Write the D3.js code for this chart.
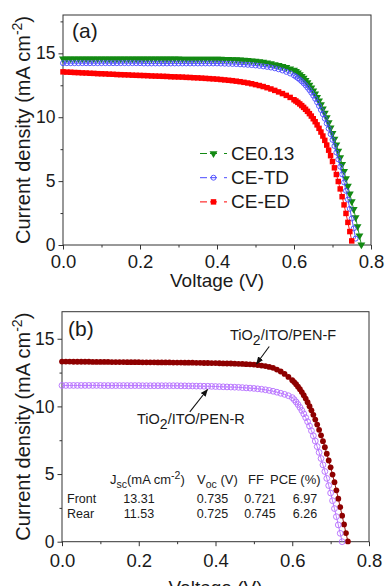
<!DOCTYPE html>
<html><head><meta charset="utf-8">
<script src="https://cdn.jsdelivr.net/npm/d3@7"></script>
<style>
body{margin:0;background:#fff}
svg{display:block}
text{font-family:"Liberation Sans",Arial,Helvetica,sans-serif;fill:#1a1a1a}
</style>
</head><body>
<svg id="c" width="387" height="586"></svg>
<script>
// ---------------- data ----------------
const voltage = [0.00,0.01,0.02,0.03,0.04,0.05,0.06,0.07,0.08,0.09,0.10,0.11,0.12,0.13,0.14,0.15,0.16,0.17,0.18,0.19,0.20,0.21,0.22,0.23,0.24,0.25,0.26,0.27,0.28,0.29,0.30,0.31,0.32,0.33,0.34,0.35,0.36,0.37,0.38,0.39,0.40,0.41,0.42,0.43,0.44,0.45,0.46,0.47,0.48,0.49,0.50,0.51,0.52,0.53,0.54,0.55,0.56,0.57,0.58,0.59,0.60,
0.605,0.61,0.615,0.62,0.625,0.63,0.635,0.64,0.645,0.65,0.655,0.66,0.665,0.67,0.675,0.68,0.685,0.69,0.695,0.70,0.705,0.71,0.715,0.72,0.725,0.73,0.735,0.74,0.745,0.75,0.755,0.76,0.765,0.77,0.775];

// panel (a)
const jCE013 = [14.58,14.58,14.58,14.58,14.58,14.58,14.58,14.58,14.58,14.58,14.58,
14.57,14.57,14.57,14.57,14.57,14.57,14.57,14.57,14.57,14.57,14.57,14.57,14.57,14.57,14.57,14.57,14.57,14.57,14.57,14.57,
14.56,14.56,14.56,14.56,14.56,14.56,14.56,14.56,14.56,14.56,
14.55,14.54,14.53,14.52,14.51,14.49,14.47,14.45,14.42,14.39,
14.35,14.31,14.26,14.20,14.13,14.06,13.98,13.90,13.80,13.70,
13.60,13.48,13.35,13.21,13.06,12.89,12.71,12.51,12.30,12.07,11.83,11.57,11.29,10.99,10.67,10.33,9.97,9.58,9.17,8.74,8.30,7.85,7.36,6.85,6.32,5.77,5.20,4.61,4.00,3.40,2.80,2.15,1.45,0.72,0.02];
const jCETD = [14.23,14.23,14.23,14.23,14.23,14.23,14.23,14.23,14.23,14.23,14.23,14.23,14.23,14.23,14.23,14.23,14.23,14.23,14.23,14.23,14.23,
14.21,14.21,14.21,14.21,14.21,14.21,14.21,14.21,14.21,14.21,14.21,14.21,14.21,14.21,14.21,14.21,14.21,14.21,14.21,14.21,
14.20,14.19,14.18,14.17,14.16,14.14,14.12,14.10,14.08,14.05,
14.02,13.98,13.94,13.89,13.83,13.75,13.66,13.55,13.42,13.27,
13.17,13.06,12.94,12.81,12.66,12.50,12.32,12.13,11.92,11.69,11.44,11.17,10.88,10.57,10.24,9.89,9.51,9.11,8.68,8.23,7.75,7.24,6.70,6.13,5.53,4.90,4.24,3.55,2.83,2.08,1.30,0.50];
const jCEED = [13.55,13.53,13.52,13.50,13.49,13.47,13.46,13.44,13.43,13.41,13.40,
13.39,13.37,13.36,13.34,13.33,13.32,13.31,13.29,13.28,13.27,
13.26,13.25,13.23,13.22,13.21,13.20,13.19,13.17,13.16,13.15,
13.14,13.12,13.11,13.09,13.08,13.06,13.04,13.02,13.00,12.98,
12.95,12.92,12.89,12.86,12.82,12.78,12.73,12.68,12.62,12.55,
12.48,12.40,12.31,12.21,12.10,11.98,11.85,11.71,11.55,11.37,
11.27,11.16,11.04,10.91,10.77,10.62,10.46,10.28,10.09,9.88,9.65,9.40,9.13,8.84,8.53,8.19,7.82,7.42,6.99,6.53,6.04,5.52,4.97,4.39,3.78,3.14,2.47,1.77,1.05,0.32];

// panel (b)
const jFront = [13.31,13.31,13.31,13.30,13.30,13.30,13.30,13.30,13.29,13.29,13.29,
13.29,13.29,13.28,13.28,13.28,13.28,13.27,13.27,13.27,13.27,
13.26,13.26,13.26,13.26,13.25,13.25,13.25,13.25,13.24,13.24,
13.24,13.23,13.23,13.23,13.22,13.22,13.21,13.21,13.20,13.20,
13.19,13.18,13.17,13.17,13.16,13.15,13.14,13.12,13.11,13.09,
13.06,13.02,12.98,12.92,12.85,12.72,12.58,12.40,12.18,11.94,
11.80,11.64,11.46,11.27,11.06,10.83,10.58,10.31,10.02,9.71,9.38,9.03,8.66,8.27,7.86,7.43,6.98,6.50,6.00,5.50,4.96,4.40,3.80,3.18,2.55,1.92,1.28,0.64,0.02];
const jRear = [11.55,11.55,11.55,11.55,11.55,11.55,11.55,11.55,11.55,11.55,11.55,
11.54,11.54,11.54,11.54,11.54,11.54,11.54,11.54,11.54,11.54,
11.53,11.53,11.53,11.53,11.53,11.53,11.53,11.53,11.53,11.53,
11.52,11.52,11.51,11.51,11.50,11.50,11.49,11.49,11.48,11.47,
11.46,11.45,11.44,11.43,11.42,11.41,11.39,11.37,11.35,11.33,
11.30,11.27,11.23,11.18,11.12,11.05,10.97,10.89,10.79,10.65,
10.50,10.33,10.14,9.93,9.70,9.45,9.17,8.87,8.55,8.20,7.83,7.44,7.03,6.60,6.15,5.68,5.19,4.68,4.15,3.60,3.03,2.45,1.85,1.24,0.62,0.00];

const seriesNamesA = ["CE0.13","CE-TD","CE-ED"];
const xTicks = [0.0,0.2,0.4,0.6,0.8];
const xMinorTicks = [0.1,0.3,0.5,0.7];
const yTicks = [0,5,10,15];
const yMinorTicksA = [2.5,7.5,12.5,17.5];
const yMinorTicksB = [2.5,7.5,12.5];
const annotationLabels = ["TiO2/ITO/PEN-F","TiO2/ITO/PEN-R"];
const tableRows = ["Front","Rear"];
const tableJsc = ["13.31","11.53"];
const tableVoc = ["0.735","0.725"];
const tableFF = ["0.721","0.745"];
const tablePCE = ["6.97","6.26"];

// ---------------- drawing ----------------
const svg = d3.select("#c");
const defs = svg.append("defs");
defs.append("marker").attr("id","ah").attr("viewBox","0 0 10 10").attr("refX",9).attr("refY",5)
  .attr("markerWidth",7).attr("markerHeight",7).attr("orient","auto")
  .append("path").attr("d","M0,1 L10,5 L0,9 z").attr("fill","#111");

function panel(p){
  const g = svg.append("g");
  const x = d3.scaleLinear().domain([0,0.8]).range([p.left,p.right]);
  const y = d3.scaleLinear().domain([0,p.ymax]).range([p.bottom,p.top]);

  const xa = g.append("g").attr("transform",`translate(0,${p.bottom})`)
    .call(d3.axisBottom(x).tickValues(xTicks).tickFormat(d3.format(".1f")).tickSize(4.5));
  xa.select(".domain").remove();
  xa.selectAll("line").attr("stroke","#333");
  xa.selectAll("text").attr("dy",null).attr("y",p.xLabOff).style("font-size","18.5px").attr("fill","#1a1a1a");
  const xm = g.append("g").attr("transform",`translate(0,${p.bottom})`)
    .call(d3.axisBottom(x).tickValues(xMinorTicks).tickFormat("").tickSize(2.5));
  xm.select(".domain").remove(); xm.selectAll("line").attr("stroke","#333");

  const ya = g.append("g").attr("transform",`translate(${p.left},0)`)
    .call(d3.axisLeft(y).tickValues(yTicks).tickFormat(d3.format("d")).tickSize(4.5).tickPadding(3));
  ya.select(".domain").remove();
  ya.selectAll("line").attr("stroke","#333");
  ya.selectAll("text").style("font-size","17.5px").attr("fill","#1a1a1a");
  const ym = g.append("g").attr("transform",`translate(${p.left},0)`)
    .call(d3.axisLeft(y).tickValues(p.yMinor).tickFormat("").tickSize(2.5));
  ym.select(".domain").remove(); ym.selectAll("line").attr("stroke","#333");

  g.append("rect").attr("x",p.left).attr("y",p.top).attr("width",p.right-p.left).attr("height",p.bottom-p.top)
    .attr("fill","none").attr("stroke","#333").attr("stroke-width",1);

  const yl = g.append("text").attr("transform",`translate(29.5,${(p.top+p.bottom)/2}) rotate(-90)`)
    .attr("text-anchor","middle").style("font-size","20px");
  yl.append("tspan").text("Current density (mA cm");
  yl.append("tspan").attr("dy",-8).style("font-size","14px").text("-2");
  yl.append("tspan").attr("dy",8).text(")");
  g.append("text").attr("x",(p.left+p.right)/2).attr("y",p.xTitleY).attr("text-anchor","middle")
    .style("font-size","19px").text("Voltage (V)");
  g.append("text").attr("x",p.tagX).attr("y",p.tagY).style("font-size","21px").text(p.tag);
  return {g,x,y};
}

function drawSeries(g,x,y,J,s){
  const pts = J.map((j,i)=>[voltage[i],j]);
  g.append("path").datum(pts).attr("fill","none").attr("stroke",s.color).attr("stroke-width",0.9)
    .attr("d",d3.line().x(d=>x(d[0])).y(d=>y(d[1])));
  const mg = g.append("g");
  pts.forEach(d=>drawMarker(mg,x(d[0]),y(d[1]),s));
}
function drawMarker(g,cx,cy,s){
  if(s.shape==="tri"){
    g.append("path").attr("d",d3.symbol().type(d3.symbolTriangle).size(s.size)())
      .attr("transform",`translate(${cx},${cy}) rotate(180)`).attr("fill",s.color);
  } else if(s.shape==="sq"){
    g.append("path").attr("d",d3.symbol().type(d3.symbolSquare).size(s.size)())
      .attr("transform",`translate(${cx},${cy})`).attr("fill",s.color);
  } else if(s.shape==="ocirc"){
    g.append("circle").attr("cx",cx).attr("cy",cy).attr("r",s.r).attr("fill","none")
      .attr("stroke",s.color).attr("stroke-width",0.9);
  } else {
    g.append("circle").attr("cx",cx).attr("cy",cy).attr("r",s.r).attr("fill",s.color);
  }
}

// ---- panel (a)
const A = panel({left:63,right:371,top:15,bottom:245,ymax:18,yMinor:yMinorTicksA,xLabOff:23,xTitleY:287,tag:"(a)",tagX:72,tagY:37.5});
const stylesA = [
  {color:"#138a13",shape:"tri",size:27},
  {color:"#4a4aff",shape:"ocirc",r:2.5},
  {color:"#ff0000",shape:"sq",size:30}
];
[jCE013,jCETD,jCEED].forEach((J,i)=>drawSeries(A.g,A.x,A.y,J,stylesA[i]));
seriesNamesA.forEach((name,i)=>{
  const by = 160 + i*24.2;
  const ly = by - 6.5;
  A.g.append("line").attr("x1",200).attr("x2",227).attr("y1",ly).attr("y2",ly)
    .attr("stroke",stylesA[i].color).attr("stroke-width",1).attr("stroke-dasharray","7,3,7");
  drawMarker(A.g,213.5,ly,stylesA[i]);
  A.g.append("text").attr("x",231).attr("y",by).style("font-size","19px").text(name);
});

// ---- panel (b)
const B = panel({left:62,right:369,top:311.7,bottom:541.7,ymax:17,yMinor:yMinorTicksB,xLabOff:25,xTitleY:593.5,tag:"(b)",tagX:68,tagY:336});
const stylesB = [
  {color:"#8e0000",shape:"circ",r:2.9},
  {color:"#b46cff",shape:"ocirc",r:2.9}
];
drawSeries(B.g,B.x,B.y,jFront,stylesB[0]);
drawSeries(B.g,B.x,B.y,jRear,stylesB[1]);

function subLabel(g,x0,y0,label){
  const t = g.append("text").attr("x",x0).attr("y",y0).style("font-size","14.5px");
  const k = label.indexOf("2");
  t.append("tspan").text(label.slice(0,k));
  t.append("tspan").attr("dy",4.5).style("font-size","14px").text("2");
  t.append("tspan").attr("dy",-4.5).text(label.slice(k+1));
}
subLabel(B.g,230,340,annotationLabels[0]);
subLabel(B.g,137,424,annotationLabels[1]);
B.g.append("line").attr("x1",B.x(0.540)).attr("y1",B.y(14.43)).attr("x2",B.x(0.507)).attr("y2",B.y(13.15))
  .attr("stroke","#111").attr("stroke-width",1.1).attr("marker-end","url(#ah)");
B.g.append("line").attr("x1",B.x(0.333)).attr("y1",B.y(9.59)).attr("x2",B.x(0.379)).attr("y2",B.y(11.25))
  .attr("stroke","#111").attr("stroke-width",1.1).attr("marker-end","url(#ah)");

const tfs = "12.5px";
const h1 = B.g.append("text").attr("x",110).attr("y",483.5).style("font-size","13px");
h1.append("tspan").text("J");
h1.append("tspan").attr("dy",4).style("font-size","10.5px").text("sc");
h1.append("tspan").attr("dy",-4).text("(mA cm");
h1.append("tspan").attr("dy",-5).style("font-size","10.5px").text("-2");
h1.append("tspan").attr("dy",5).text(")");
const h2 = B.g.append("text").attr("x",197).attr("y",483.5).style("font-size","13px");
h2.append("tspan").text("V");
h2.append("tspan").attr("dy",4).style("font-size","10.5px").text("oc");
h2.append("tspan").attr("dy",-4).text(" (V)");
B.g.append("text").attr("x",248).attr("y",483.5).style("font-size","13px").text("FF");
B.g.append("text").attr("x",270).attr("y",483.5).style("font-size","13px").text("PCE (%)");
tableRows.forEach((r,i)=>{
  const by = 503 + i*15;
  B.g.append("text").attr("x",67).attr("y",by).style("font-size",tfs).text(r);
  B.g.append("text").attr("x",139).attr("y",by).attr("text-anchor","middle").style("font-size",tfs).text(tableJsc[i]);
  B.g.append("text").attr("x",212.5).attr("y",by).attr("text-anchor","middle").style("font-size",tfs).text(tableVoc[i]);
  B.g.append("text").attr("x",260).attr("y",by).attr("text-anchor","middle").style("font-size",tfs).text(tableFF[i]);
  B.g.append("text").attr("x",305).attr("y",by).attr("text-anchor","middle").style("font-size",tfs).text(tablePCE[i]);
});
</script>
</body></html>
